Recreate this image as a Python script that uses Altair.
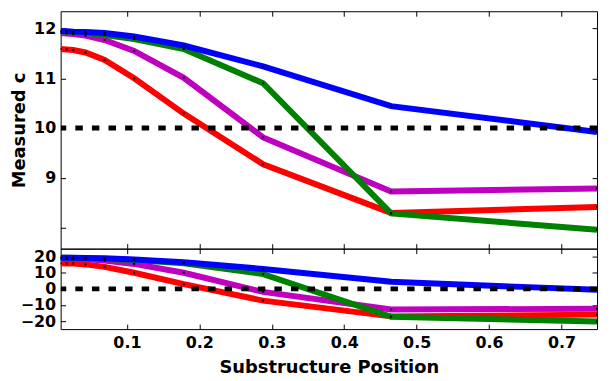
import altair as alt
import pandas as pd

# ---- data ----
positions = [0.0085, 0.0167, 0.0259, 0.0428, 0.0692, 0.110, 0.1785, 0.288, 0.4647, 0.749]

series_names = ["red", "magenta", "green", "blue"]
series_colors = ["#ff0000", "#bf00bf", "#008000", "#0000ff"]

c_red = [11.59, 11.58, 11.57, 11.52, 11.37, 11.00, 10.29, 9.27, 8.29, 8.41]
c_magenta = [11.91, 11.90, 11.89, 11.86, 11.77, 11.55, 11.01, 9.81, 8.72, 8.78]
c_green = [11.94, 11.94, 11.93, 11.91, 11.87, 11.79, 11.59, 10.90, 8.28, 7.95]
c_blue = [11.95, 11.95, 11.94, 11.93, 11.91, 11.84, 11.66, 11.24, 10.44, 9.92]

dev_red = [15.9, 15.8, 15.7, 15.2, 13.7, 10.0, 2.9, -7.3, -17.1, -16.0]
dev_magenta = [19.0, 18.9, 18.8, 18.5, 17.6, 15.5, 10.0, -1.9, -12.8, -12.4]
dev_green = [19.3, 19.3, 19.2, 19.0, 18.6, 17.9, 15.9, 9.2, -17.3, -20.3]
dev_blue = [19.4, 19.3, 19.3, 19.2, 19.0, 18.3, 16.5, 12.4, 4.4, -0.6]

ref_c = [10]
ref_dev = [0]

c_ticks = [8, 9, 10, 11, 12]
dev_ticks = [-20, -10, 0, 10, 20]
x_ticks = [0.1, 0.2, 0.3, 0.4, 0.5, 0.6, 0.7]

x_domain = [0.0085, 0.749]
c_domain = [7.57, 12.35]
dev_domain = [-25, 25]

FONT = "DejaVu Sans"


def panel(series_values, ref, y_domain, y_ticks, height, y_title, label_expr,
          show_x_labels, x_title):
    xs = alt.Scale(domain=x_domain, nice=False, zero=False)
    ys = alt.Scale(domain=y_domain, nice=False, zero=False)
    layers = []
    dot_rows = []
    for i, (name, col) in enumerate(zip(series_names, series_colors)):
        df = pd.DataFrame({"x": positions, "y": series_values[name]})
        dot_rows.append(df)
        if i == 0:
            xaxis = alt.Axis(orient="bottom", values=x_ticks, labels=show_x_labels,
                             offset=-5, tickSize=5, domain=False, grid=False,
                             format=".1f", labelPadding=6, titlePadding=8,
                             labelFlush=False)
        else:
            xaxis = None
        layers.append(
            alt.Chart(df).mark_line(color=col, strokeWidth=6, clip=True).encode(
                x=alt.X("x:Q", scale=xs, axis=xaxis, title=x_title),
                y=alt.Y("y:Q", scale=ys, axis=None),
            )
        )
    dots_df = pd.concat(dot_rows, ignore_index=True)
    dots = alt.Chart(dots_df).mark_square(size=4, color="black", opacity=1, clip=True).encode(
        x=alt.X("x:Q", scale=xs,
                axis=alt.Axis(orient="top", values=x_ticks, labels=False, offset=-5,
                              tickSize=5, domain=False, grid=False),
                title=None),
        y=alt.Y("y:Q", scale=ys,
                axis=alt.Axis(orient="right", values=y_ticks, labels=False, offset=-5,
                              tickSize=5, domain=False, grid=False),
                title=None),
    )
    rule = alt.Chart(pd.DataFrame({"r": ref})).mark_rule(
        color="black", strokeWidth=5, strokeDash=[7.5, 9.2], strokeCap="butt", clip=True
    ).encode(
        y=alt.Y("r:Q", scale=ys,
                axis=alt.Axis(orient="left", values=y_ticks, offset=-5, tickSize=5,
                              domain=False, grid=False, labelPadding=5,
                              labelExpr=label_expr, labelFlush=False, titlePadding=5),
                title=y_title),
    )
    return alt.layer(*layers, dots, rule).properties(width=540, height=height)


top = panel(
    {"red": c_red, "magenta": c_magenta, "green": c_green, "blue": c_blue},
    ref_c, c_domain, c_ticks, 239, "Measured c",
    "datum.value == 8 ? '' : datum.label", False, None,
)
bottom = panel(
    {"red": dev_red, "magenta": dev_magenta, "green": dev_green, "blue": dev_blue},
    ref_dev, dev_domain, dev_ticks, 81, None,
    "datum.label", True, "Substructure Position",
)

chart = alt.vconcat(top, bottom, spacing=0, bounds="flush").properties(
    padding={"left": 2, "top": 1, "right": 5, "bottom": 5}
).configure_view(
    stroke="black", strokeWidth=1
).configure_axis(
    labelFont=FONT, labelFontWeight="bold", labelFontSize=16, labelColor="black",
    titleFont=FONT, titleFontWeight="bold", titleFontSize=18, titleColor="black",
    tickColor="black", tickWidth=1,
)

chart.save("out.html", embed_options={"renderer": "svg", "actions": False})
